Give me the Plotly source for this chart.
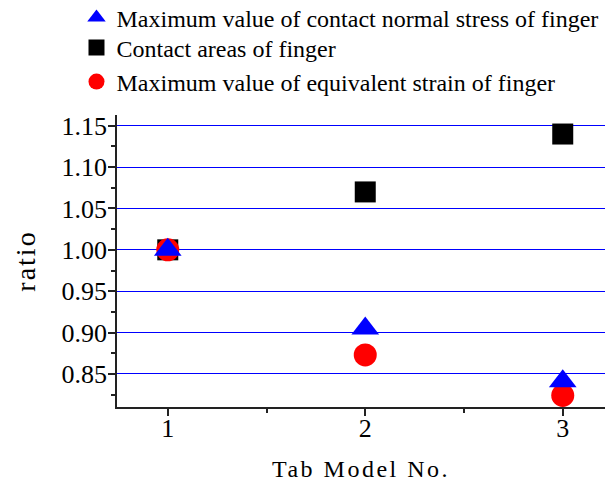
import plotly.graph_objects as go

models = [1, 2, 3]
stress_max = [1.00, 0.905, 0.841]
contact_area = [1.00, 1.07, 1.14]
strain_max = [1.00, 0.873, 0.824]

names = [
    "Maximum value of contact normal stress of finger",
    "Contact areas of finger",
    "Maximum value of equivalent strain of finger",
]

FONT = "Liberation Serif, Times New Roman, serif"
PLOT_TOP, PLOT_BOTTOM = 115, 407
PLOT_H = PLOT_BOTTOM - PLOT_TOP


def py(p):
    return (PLOT_BOTTOM - p) / PLOT_H


fig = go.Figure()
fig.add_trace(go.Scatter(x=models, y=contact_area, mode="markers", name=names[1],
                         legend="legend2",
                         marker=dict(symbol="square", size=21, color="black")))
fig.add_trace(go.Scatter(x=models, y=strain_max, mode="markers", name=names[2],
                         legend="legend3",
                         marker=dict(symbol="circle", size=23, color="red")))
fig.add_trace(go.Scatter(x=models, y=stress_max, mode="markers", name=names[0],
                         legend="legend",
                         marker=dict(symbol="triangle-up", size=24, color="blue")))

leg = dict(x=-0.083, xanchor="left", yanchor="middle",
           font=dict(family=FONT, size=24, color="black"),
           bgcolor="rgba(0,0,0,0)", itemsizing="trace")

fig.update_layout(
    width=605, height=487,
    margin=dict(l=117, r=0, t=PLOT_TOP, b=487 - PLOT_BOTTOM, autoexpand=False),
    paper_bgcolor="white", plot_bgcolor="white",
    font=dict(family=FONT, color="black", size=24),
    showlegend=True,
    legend=dict(leg, y=py(18)),
    legend2=dict(leg, y=py(48)),
    legend3=dict(leg, y=py(82)),
    xaxis=dict(
        range=[0.743, 3.214], automargin=False,
        tickmode="array", tickvals=[1, 2, 3], ticktext=["1", "2", "3"],
        ticks="outside", ticklen=7, tickwidth=1.5, tickcolor="#222",
        minor=dict(tickvals=[1.5, 2.5], ticks="outside", ticklen=4, tickwidth=1.5, tickcolor="#222"),
        showline=True, linecolor="#222", linewidth=1.5,
        showgrid=False, zeroline=False,
        tickfont=dict(family=FONT, size=26),
        ticklabelstandoff=-10,
        title=dict(text="Tab Model No.", font=dict(family=FONT, size=24), standoff=18),
    ),
    yaxis=dict(
        range=[0.81, 1.163], automargin=False,
        tickmode="array",
        tickvals=[0.85, 0.90, 0.95, 1.00, 1.05, 1.10, 1.15],
        ticktext=["0.85", "0.90", "0.95", "1.00", "1.05", "1.10", "1.15"],
        ticks="outside", ticklen=7, tickwidth=1.5, tickcolor="#222",
        minor=dict(tickvals=[0.825, 0.875, 0.925, 0.975, 1.025, 1.075, 1.125],
                   ticks="outside", ticklen=4, tickwidth=1.5, tickcolor="#222", showgrid=False),
        showline=True, linecolor="#222", linewidth=1.5,
        showgrid=True, gridcolor="#0000ff", gridwidth=1,
        zeroline=False,
        tickfont=dict(family=FONT, size=26),
        ticklabelstandoff=-4,
        title=dict(text="ratio", font=dict(family=FONT, size=28), standoff=18),
    ),
)

post = """
document.body.style.margin='0';document.body.style.padding='0';
document.querySelectorAll('.g-xtitle text').forEach(function(t){t.style.letterSpacing='2.5px';});
document.querySelectorAll('.g-ytitle text').forEach(function(t){t.style.letterSpacing='2px';});
"""

fig.write_html("out.html", config={"displayModeBar": False}, post_script=post)
